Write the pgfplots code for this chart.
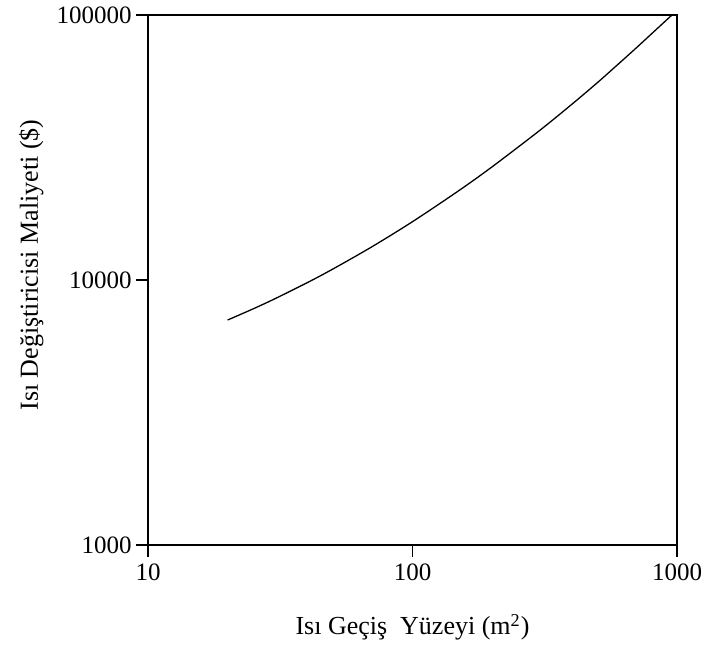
\documentclass[border=0pt]{standalone}
\usepackage{pgfplots}
\pgfplotsset{compat=1.18}
\usepackage{fontspec}
\setmainfont{Liberation Serif}
\begin{document}
\begin{tikzpicture}
\begin{axis}[
  xmode=log, ymode=log,
  scale only axis,
  width=264.5pt, height=265pt,
  xmin=10, xmax=1000, ymin=1000, ymax=100000,
  xtick={10,100,1000}, xticklabels={10,100,1000},
  ytick={1000,10000,100000}, yticklabels={1000,10000,100000},
  xminorticks=false, yminorticks=false,
  tick align=outside, xtick pos=bottom, ytick pos=left,
  major tick length=6pt,
  axis line style={line width=0.8pt},
  every tick/.style={line width=0.8pt, black},
  yticklabel style={inner sep=2pt},
  ticklabel style={font=\fontsize{12.5pt}{15pt}\selectfont},
  xlabel={Isı Geçiş\ \ Yüzeyi (m\textsuperscript{2})},
  ylabel={Isı Değiştiricisi Maliyeti (\$)},
  xlabel style={font=\fontsize{13pt}{16pt}\selectfont, at={(axis description cs:0.5,0)}, anchor=base, yshift=-45pt},
  ylabel style={font=\fontsize{13pt}{16pt}\selectfont, at={(axis description cs:0,0.5)}, anchor=base, yshift=55pt, xshift=7.5pt},
]
\addplot[black, line width=0.65pt, smooth, tension=0.5] coordinates {
(20,7063) (25,7786) (30,8472) (40,9770) (50,11000) (70,13320)
(100,16600) (150,21770) (200,26740) (300,36430) (400,46000)
(500,55550) (600,65300) (700,75000) (800,84800) (900,94500)
(957,100000)
};
\coordinate (sw) at (rel axis cs:0,0);
\coordinate (ne) at (rel axis cs:1,1);
\end{axis}
\pgfresetboundingbox
\path[use as bounding box] ([shift={(-74pt,-52.5pt)}]sw) rectangle ([shift={(16pt,7.5pt)}]ne);
\end{tikzpicture}
\end{document}
